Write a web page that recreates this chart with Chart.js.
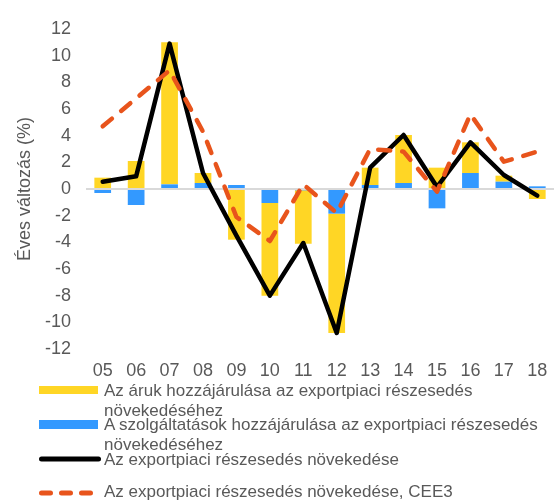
<!DOCTYPE html>
<html>
<head>
<meta charset="utf-8">
<script src="https://cdn.jsdelivr.net/npm/chart.js@4.4.1/dist/chart.umd.min.js"></script>
<style>
  body { margin: 0; background: #fff; font-family: "Liberation Sans", Arial, sans-serif; color: #595959; }
  #wrap { position: relative; width: 554px; height: 503px; overflow: hidden; }
  #box { position: absolute; left: 0; top: 0; width: 554px; height: 387px; }
  .sw { position: absolute; left: 39px; }
  .txt { position: absolute; left: 104px; width: 450px; font-size: 17px; line-height: 20px; color: #595959; }
</style>
</head>
<body>
<div id="wrap">
  <div id="box"><canvas id="chart"></canvas></div>
  <div id="legend"></div>
</div>
<script>
// years (x axis)
var years = ['05', '06', '07', '08', '09', '10', '11', '12', '13', '14', '15', '16', '17', '18'];

// contribution of goods / services to export market share growth (%)
var goods    = [0.85, 2.1, 10.65, 0.75, -3.8, -6.95, -4.0, -8.95, 1.3, 3.6, 1.6, 2.3, 0.45, -0.75];
var services = [-0.3, -1.2, 0.35, 0.45, 0.3, -1.05, -0.1, -1.85, 0.3, 0.45, -1.45, 1.2, 0.55, 0.2];

// export market share growth, Hungary and CEE3
var share = [0.55, 0.95, 10.9, 1.2, -3.5, -8.0, -4.05, -10.8, 1.6, 4.05, 0.15, 3.5, 1.05, -0.5];
var cee3  = [4.7, 6.8, 8.9, 4.3, -2.1, -3.9, 0.35, -1.8, 3.0, 2.8, -0.2, 5.6, 2.05, 2.8];

var yTicks = [-12, -10, -8, -6, -4, -2, 0, 2, 4, 6, 8, 10, 12];

var labels = [
  'Az áruk hozzájárulása az exportpiaci részesedés növekedéséhez',
  'A szolgáltatások hozzájárulása az exportpiaci részesedés növekedéséhez',
  'Az exportpiaci részesedés növekedése',
  'Az exportpiaci részesedés növekedése, CEE3'
];

var YELLOW = '#FFD625';
var BLUE   = '#3399FF';
var BLACK  = '#000000';
var ORANGE = '#E8541C';
var GREY   = '#595959';

var ctx = document.getElementById('chart').getContext('2d');
var myChart = new Chart(ctx, {
  data: {
    labels: years,
    datasets: [
      { type: 'bar', label: labels[0], data: goods, backgroundColor: YELLOW, order: 3, stack: 'bars' },
      { type: 'bar', label: labels[1], data: services, backgroundColor: BLUE, order: 2, stack: 'bars' },
      { type: 'line', label: labels[2], data: share, borderColor: BLACK, borderWidth: 4.5, stack: 'hu',
        pointRadius: 0, tension: 0, borderJoinStyle: 'round', borderCapStyle: 'round', order: 1 },
      { type: 'line', label: labels[3], data: cee3, borderColor: ORANGE, borderWidth: 4.5, stack: 'cee',
        borderDash: [12, 12], pointRadius: 0, tension: 0, borderCapStyle: 'round',
        borderJoinStyle: 'round', order: 0 }
    ]
  },
  options: {
    responsive: true,
    maintainAspectRatio: false,
    animation: false,
    layout: { padding: { top: 29, right: 0, bottom: 0, left: 0 } },
    plugins: { legend: { display: false }, tooltip: { enabled: false } },
    datasets: { bar: { barPercentage: 1, categoryPercentage: 0.5 } },
    scales: {
      x: {
        stacked: true,
        grid: { display: false },
        border: { display: false },
        ticks: { color: GREY, font: { family: 'Liberation Sans', size: 18 }, padding: 3, maxRotation: 0 },
        afterFit: function (scale) { scale.height = 38; }
      },
      y: {
        stacked: true,
        min: -12,
        max: 12,
        afterBuildTicks: function (scale) { scale.ticks = yTicks.map(function (v) { return { value: v }; }); },
        grid: {
          drawTicks: false,
          lineWidth: 2,
          color: function (c) { return c.tick && c.tick.value === 0 ? '#D9D9D9' : 'rgba(0,0,0,0)'; }
        },
        border: { display: false },
        ticks: { color: GREY, font: { family: 'Liberation Sans', size: 18 }, padding: 15 },
        title: {
          display: true,
          text: 'Éves változás (%)',
          color: GREY,
          font: { family: 'Liberation Sans', size: 18 },
          padding: { top: 14, bottom: 0 }
        },
        afterFit: function (scale) { scale.width = 86; }
      }
    }
  }
});

// html legend under the chart
function buildLegend() {
  var leg = document.getElementById('legend');
  var rows = [
    { top: 381, sw: '<div class="sw" style="top:386px;width:59px;height:8px;background:' + YELLOW + '"></div>' },
    { top: 415, sw: '<div class="sw" style="top:420px;width:59px;height:9px;background:' + BLUE + '"></div>' },
    { top: 449.5, sw: '<svg class="sw" style="top:454px" width="62" height="10"><line x1="2.5" y1="5" x2="59.5" y2="5" stroke="' + BLACK + '" stroke-width="5" stroke-linecap="round"/></svg>' },
    { top: 481.5, sw: '<svg class="sw" style="top:488px" width="62" height="10"><line x1="2.5" y1="5" x2="59.5" y2="5" stroke="' + ORANGE + '" stroke-width="5" stroke-linecap="round" stroke-dasharray="9 11"/></svg>' }
  ];
  var html = '';
  for (var k = 0; k < rows.length; k++) {
    html += rows[k].sw;
    html += '<div class="txt" style="top:' + rows[k].top + 'px">' + labels[k] + '</div>';
  }
  leg.innerHTML = html;
}
buildLegend();
</script>
</body>
</html>
